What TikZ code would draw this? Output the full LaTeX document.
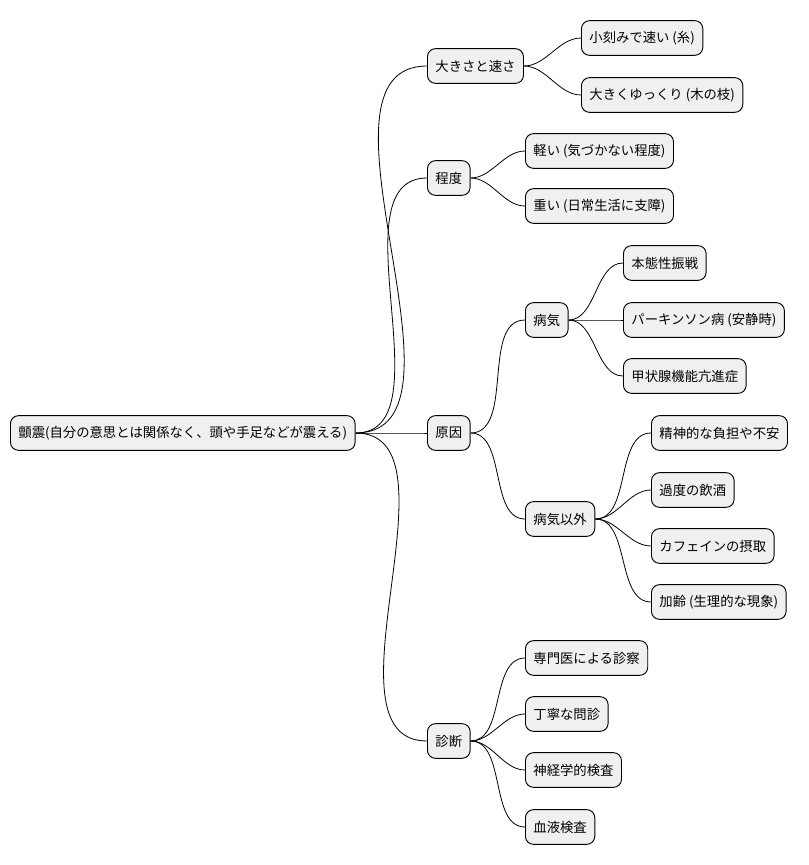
\documentclass[tikz,border=0pt]{standalone}
\usepackage{fontspec}
\setmainfont{Noto Sans CJK JP}
\begin{document}
\begin{tikzpicture}[x=0.75pt,y=-0.75pt,
  n/.style={draw=black,line width=0.7pt,fill=black!6,rounded corners=6pt,anchor=west,minimum height=26pt,inner xsep=6pt,font=\fontsize{10pt}{12pt}\selectfont},
  c/.style={line width=0.6pt,out=0,in=180,looseness=0.9}]
\useasboundingbox (0,0) rectangle (809,865);
\node[n] (r) at (10,433) {顫震(自分の意思とは関係なく、頭や手足などが震える)};
\node[n] (a) at (427,66) {大きさと速さ};
\node[n] (a1) at (581,38) {小刻みで速い (糸)};
\node[n] (a2) at (581,95) {大きくゆっくり (木の枝)};
\node[n] (b) at (427,178) {程度};
\node[n] (b1) at (525,151) {軽い (気づかない程度)};
\node[n] (b2) at (525,206) {重い (日常生活に支障)};
\node[n] (c) at (427,433) {原因};
\node[n] (c1) at (525,320) {病気};
\node[n] (c11) at (623,263) {本態性振戦};
\node[n] (c12) at (623,320) {パーキンソン病 (安静時)};
\node[n] (c13) at (623,376) {甲状腺機能亢進症};
\node[n] (c2) at (525,519) {病気以外};
\node[n] (c21) at (651,433) {精神的な負担や不安};
\node[n] (c22) at (651,490) {過度の飲酒};
\node[n] (c23) at (651,546) {カフェインの摂取};
\node[n] (c24) at (651,602) {加齢 (生理的な現象)};
\node[n] (d) at (427,741) {診断};
\node[n] (d1) at (525,658) {専門医による診察};
\node[n] (d2) at (525,714) {丁寧な問診};
\node[n] (d3) at (525,770) {神経学的検査};
\node[n] (d4) at (525,827) {血液検査};
\foreach \p/\k in {r/a,r/b,r/c,r/d,a/a1,a/a2,b/b1,b/b2,c/c1,c/c2,c1/c11,c1/c12,c1/c13,c2/c21,c2/c22,c2/c23,c2/c24,d/d1,d/d2,d/d3,d/d4}
  \draw[c] (\p.east) to (\k.west);
\end{tikzpicture}
\end{document}
